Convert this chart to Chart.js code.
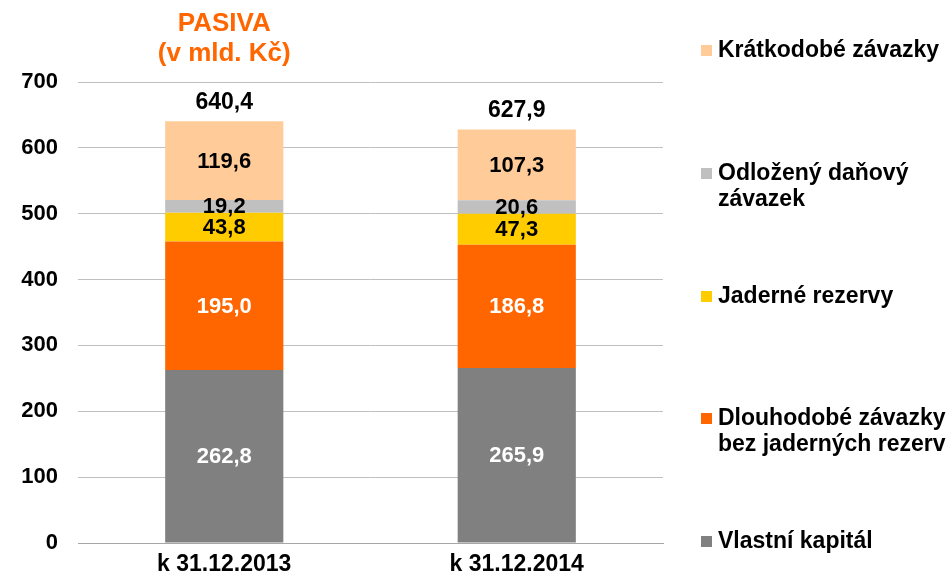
<!DOCTYPE html>
<html>
<head>
<meta charset="utf-8">
<script src="https://cdn.jsdelivr.net/npm/chart.js@4/dist/chart.umd.min.js"></script>
<style>
html,body{margin:0;padding:0;background:#fff;}
#wrap{width:951px;height:580px;position:relative;}
</style>
</head>
<body>
<div id="wrap"><canvas id="c" width="951" height="580"></canvas></div>
<script>
const categories = ["k 31.12.2013", "k 31.12.2014"];
const vlastniKapital = [262.8, 265.9];
const dlouhodobeZavazky = [195.0, 186.8];
const jaderneRezervy = [43.8, 47.3];
const odlozenyDanovy = [19.2, 20.6];
const kratkodobeZavazky = [119.6, 107.3];
const totals = [640.4, 627.9];
const yTicks = [0, 100, 200, 300, 400, 500, 600, 700];
const titleLines = ["PASIVA", "(v mld. Kč)"];

const FONT = "'Liberation Sans', Arial, sans-serif";

const series = [
  {label: ["Vlastní kapitál"], data: vlastniKapital, color: "#808080", text: "#ffffff"},
  {label: ["Dlouhodobé závazky", "bez jaderných rezerv"], data: dlouhodobeZavazky, color: "#FF6600", text: "#ffffff"},
  {label: ["Jaderné rezervy"], data: jaderneRezervy, color: "#FFCC00", text: "#000000"},
  {label: ["Odložený daňový", "závazek"], data: odlozenyDanovy, color: "#C0C0C0", text: "#000000"},
  {label: ["Krátkodobé závazky"], data: kratkodobeZavazky, color: "#FFCC99", text: "#000000"}
];

const fmt = v => v.toFixed(1).replace('.', ',');

const labelsPlugin = {
  id: 'labelsPlugin',
  afterDatasetsDraw(chart) {
    const ctx = chart.ctx;
    ctx.save();
    ctx.textAlign = 'center';
    ctx.textBaseline = 'middle';
    ctx.font = "bold 22px " + FONT;
    chart.data.datasets.forEach((ds, di) => {
      const meta = chart.getDatasetMeta(di);
      meta.data.forEach((el, i) => {
        const mid = (el.y + el.base) / 2;
        ctx.fillStyle = series[di].text;
        ctx.fillText(fmt(ds.data[i]), el.x, mid + 1);
      });
    });
    // totals
    const topMeta = chart.getDatasetMeta(chart.data.datasets.length - 1);
    ctx.fillStyle = '#000';
    ctx.font = "bold 23px " + FONT;
    topMeta.data.forEach((el, i) => {
      ctx.fillText(fmt(totals[i]), el.x, el.y - 19);
    });
    // title
    const x0 = chart.getDatasetMeta(0).data[0].x;
    ctx.fillStyle = '#FF6600';
    ctx.font = "bold 26px " + FONT;
    ctx.fillText(titleLines[0], x0, 24);
    ctx.fillText(titleLines[1], x0, 54);
    // legend
    const legendY = [[50], [173, 199], [296], [418, 444], [541]];
    const order = [4, 3, 2, 1, 0];
    ctx.textAlign = 'left';
    ctx.font = "bold 23px " + FONT;
    order.forEach((si, k) => {
      const s = series[si];
      const ys = legendY[k];
      ctx.fillStyle = s.color;
      ctx.fillRect(701, ys[0] - 5, 11, 11);
      ctx.fillStyle = '#000';
      s.label.forEach((line, li) => ctx.fillText(line, 718, ys[li] + 1));
    });
    ctx.restore();
  }
};

new Chart(document.getElementById('c'), {
  type: 'bar',
  data: {
    labels: categories,
    datasets: series.map(s => ({
      label: s.label.join(' '),
      data: s.data,
      backgroundColor: s.color,
      borderWidth: 0,
      barPercentage: 0.404,
      categoryPercentage: 1.0
    }))
  },
  options: {
    responsive: false,
    animation: false,
    devicePixelRatio: 1,
    layout: {padding: {left: 0, right: 288, top: 82, bottom: 0}},
    plugins: {legend: {display: false}, tooltip: {enabled: false}, title: {display: false}},
    scales: {
      x: {
        stacked: true,
        grid: {display: false, drawTicks: false},
        border: {display: true, color: '#A6A6A6', width: 1},
        ticks: {color: '#000', font: {family: FONT, size: 23, weight: 'bold'}, padding: 8},
        afterFit(scale) { scale.height = 37; }
      },
      y: {
        stacked: true,
        min: 0, max: 700,
        afterBuildTicks(scale) { scale.ticks = yTicks.map(v => ({value: v})); },
        grid: {color: '#BFBFBF', drawTicks: false, lineWidth: 1},
        border: {display: false},
        ticks: {color: '#000', font: {family: FONT, size: 22, weight: 'bold'}, padding: 20},
        afterFit(scale) { scale.width = 78; }
      }
    }
  },
  plugins: [labelsPlugin]
});
</script>
</body>
</html>
